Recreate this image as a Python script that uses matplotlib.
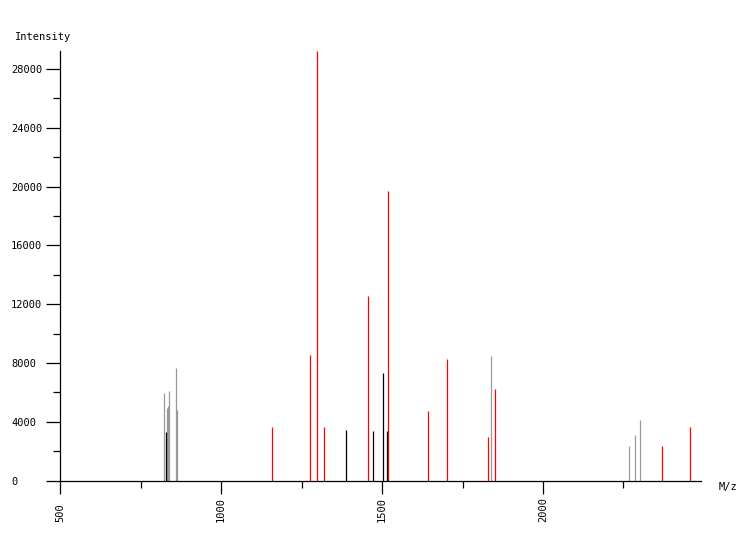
import matplotlib
matplotlib.use("Agg")
import matplotlib.pyplot as plt
from matplotlib.ticker import MultipleLocator

# Peak data (m/z, intensity, colour group)
red_mz = [1158, 1276, 1298, 1320, 1457, 1519, 1643, 1702, 1829, 1851, 2370, 2457]
red_int = [3620, 8520, 29200, 3620, 12590, 19700, 4760, 8290, 2990, 6250, 2380, 3670]

black_mz = [829, 1388, 1472, 1503, 1515]
black_int = [3330, 3470, 3350, 7360, 3350]

gray_mz = [823, 832, 834, 838, 860, 862, 1838, 2267, 2286, 2301]
gray_int = [5980, 4960, 5100, 6120, 7680, 4830, 8500, 2380, 3130, 4150]

x_min, x_max = 500, 2490
y_min, y_max = 0, 29250

fig = plt.figure(figsize=(7.5, 5.4), dpi=100)
ax = fig.add_axes([60.3 / 750, 1 - 480.7 / 540, (700.7 - 60.3) / 750, (480.7 - 50.7) / 540])

lw = 0.9
ax.vlines(gray_mz, 0, gray_int, colors="#999999", linewidth=lw, snap=True)
ax.vlines(black_mz, 0, black_int, colors="black", linewidth=lw, snap=True)
ax.vlines(red_mz, 0, red_int, colors="#ff0000", linewidth=lw, snap=True)

ax.set_xlim(x_min, x_max)
ax.set_ylim(y_min, y_max)

for s in ["top", "right"]:
    ax.spines[s].set_visible(False)
for s in ["left", "bottom"]:
    ax.spines[s].set_linewidth(0.9)

ax.xaxis.set_major_locator(MultipleLocator(500))
ax.xaxis.set_minor_locator(MultipleLocator(250))
ax.yaxis.set_major_locator(MultipleLocator(4000))
ax.yaxis.set_minor_locator(MultipleLocator(2000))

font = "DejaVu Sans Mono"
ax.tick_params(axis="x", which="major", length=9, width=0.9, pad=20.5,
               labelsize=7.5, labelrotation=90)
ax.tick_params(axis="x", which="minor", length=5, width=0.9)
ax.tick_params(axis="y", which="major", length=10, width=0.9, pad=25.4, labelsize=7.5)
ax.tick_params(axis="y", which="minor", length=5, width=0.9)

for lbl in ax.get_xticklabels():
    lbl.set_fontfamily(font)
    lbl.set_va("bottom")
for lbl in ax.get_yticklabels():
    lbl.set_fontfamily(font)
    lbl.set_ha("left")

fig.text(15 / 750, 1 - 37 / 540, "Intensity", fontsize=7.5, family=font,
         ha="left", va="center")
fig.text(719 / 750, 1 - 487 / 540, "M/z", fontsize=7.5, family=font,
         ha="left", va="center")

fig.savefig("out.png", dpi=100)
